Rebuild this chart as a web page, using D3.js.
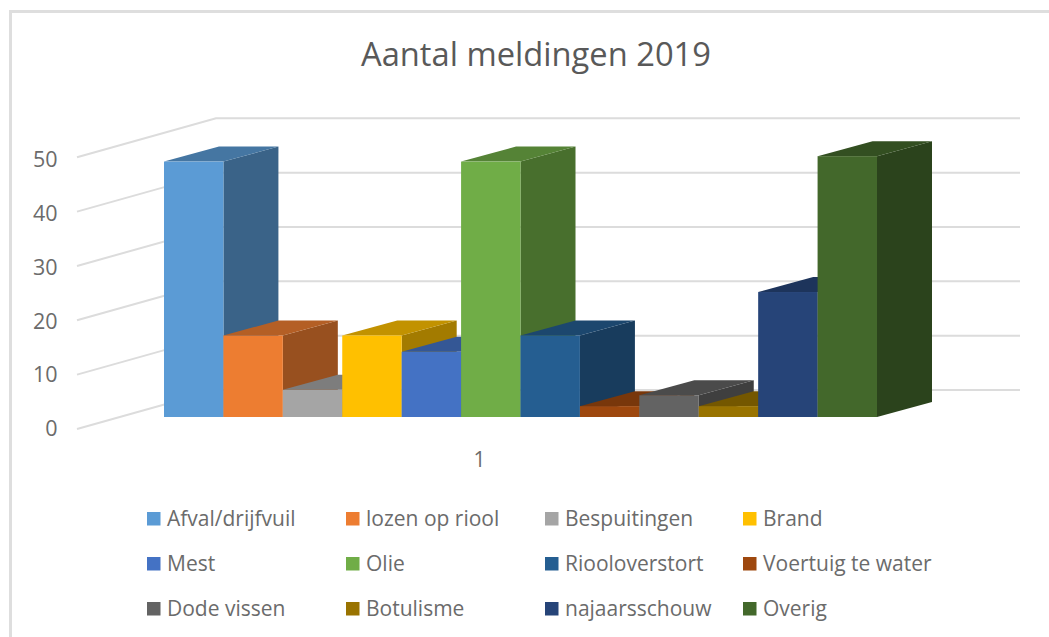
<!DOCTYPE html>
<html>
<head>
<meta charset="utf-8">
<script src="https://cdn.jsdelivr.net/npm/d3@7"></script>
<style>
  html, body { margin: 0; padding: 0; background: #fff; }
  svg { display: block; font-family: "Open Sans", "Noto Sans", sans-serif; }
</style>
</head>
<body>
<svg width="1049" height="637"></svg>
<script>
const categories = ["Afval/drijfvuil", "lozen op riool", "Bespuitingen", "Brand", "Mest", "Olie",
  "Riooloverstort", "Voertuig te water", "Dode vissen", "Botulisme", "najaarsschouw", "Overig"];
const values = [47, 15, 5, 15, 12, 47, 15, 2, 4, 2, 23, 48];
const palette = ["#5b9bd5", "#ed7d31", "#a5a5a5", "#ffc000", "#4472c4", "#70ad47",
  "#255e91", "#9e480e", "#636363", "#997300", "#264478", "#43682b"];
const yTicks = [0, 10, 20, 30, 40, 50];
const xLabels = ["1"];

const textColor = "#6b6b6b";
const gridColor = "#dcdcdc";

let svg = d3.select("svg");

// chart frame, only top and left are in the crop
svg.append("path")
  .attr("d", "M10.5,637V11.5H1049")
  .attr("fill", "none")
  .attr("stroke", "#dedede")
  .attr("stroke-width", 3);

svg.append("text")
  .attr("x", 536).attr("y", 66)
  .attr("text-anchor", "middle")
  .attr("font-size", 32.7)
  .attr("fill", "#595959")
  .text("Aantal meldingen 2019");

// y scales for the same value: front of the bars, side wall edge, back wall, tick labels
let yBar = d3.scaleLinear().domain([0, 50]).range([417, 145.3]);
let yLeft = d3.scaleLinear().domain([0, 50]).range([429, 157.3]);
let yBack = d3.scaleLinear().domain([0, 50]).range([390, 118.3]);
let yLabel = d3.scaleLinear().domain([0, 50]).range([429, 159.3]);
let x = d3.scaleBand().domain(categories).range([164, 877]);
let depth = {dx: 55, dy: -15};

let grid = svg.append("g").attr("fill", "none").attr("stroke", gridColor).attr("stroke-width", 2);
yTicks.forEach(t => {
  grid.append("path").attr("d", d3.line()([[77, yLeft(t)], [216, yBack(t)], [1020, yBack(t)]]));
});

let axisG = svg.append("g")
  .attr("transform", "translate(57.5,0)")
  .call(d3.axisLeft(yLabel).tickValues(yTicks).tickSize(0).tickPadding(0));
axisG.select(".domain").remove();
axisG.selectAll("text")
  .attr("font-size", 21.5)
  .attr("font-family", "'Open Sans', 'Noto Sans', sans-serif")
  .attr("fill", textColor);

svg.append("text")
  .attr("x", 479.5).attr("y", 466.5)
  .attr("text-anchor", "middle")
  .attr("font-size", 21)
  .attr("fill", textColor)
  .text(xLabels[0]);

function shade(c, k) {
  let r = d3.rgb(c);
  return d3.rgb(r.r * k, r.g * k, r.b * k).formatHex();
}

// left to right, so every bar paints over the hidden part of its left neighbour
let bars = svg.selectAll(".bar")
  .data(categories.map((name, i) => ({name: name, value: values[i], color: palette[i]})))
  .enter().append("g")
  .attr("class", "bar");

bars.append("path")
  .attr("fill", d => shade(d.color, 0.64))
  .attr("d", d => {
    let x1 = x(d.name) + x.bandwidth();
    return d3.line()([[x1, yBar(d.value)], [x1 + depth.dx, yBar(d.value) + depth.dy],
      [x1 + depth.dx, yBar(0) + depth.dy], [x1, yBar(0)]]) + "Z";
  });

bars.append("path")
  .attr("fill", d => shade(d.color, 0.76))
  .attr("d", d => {
    let x0 = x(d.name), x1 = x0 + x.bandwidth(), y = yBar(d.value);
    return d3.line()([[x0, y], [x0 + depth.dx, y + depth.dy], [x1 + depth.dx, y + depth.dy], [x1, y]]) + "Z";
  });

bars.append("rect")
  .attr("x", d => x(d.name))
  .attr("y", d => yBar(d.value))
  .attr("width", x.bandwidth())
  .attr("height", d => yBar(0) - yBar(d.value))
  .attr("fill", d => d.color);

// legend, 4 columns by 3 rows
let legendX = d3.scaleOrdinal().domain([0, 1, 2, 3]).range([147, 346, 545, 743]);
let legendY = d3.scaleOrdinal().domain([0, 1, 2]).range([518.5, 563.5, 608.5]);

let legend = svg.selectAll(".legend")
  .data(categories)
  .enter().append("g")
  .attr("class", "legend")
  .attr("transform", (d, i) => "translate(" + legendX(i % 4) + "," + legendY(Math.floor(i / 4)) + ")");

legend.append("rect")
  .attr("x", 0).attr("y", -6.5)
  .attr("width", 13.5).attr("height", 13.5)
  .attr("fill", (d, i) => palette[i]);

legend.append("text")
  .attr("x", 20).attr("y", 7)
  .attr("font-size", 21)
  .attr("fill", textColor)
  .text(d => d);
</script>
</body>
</html>
